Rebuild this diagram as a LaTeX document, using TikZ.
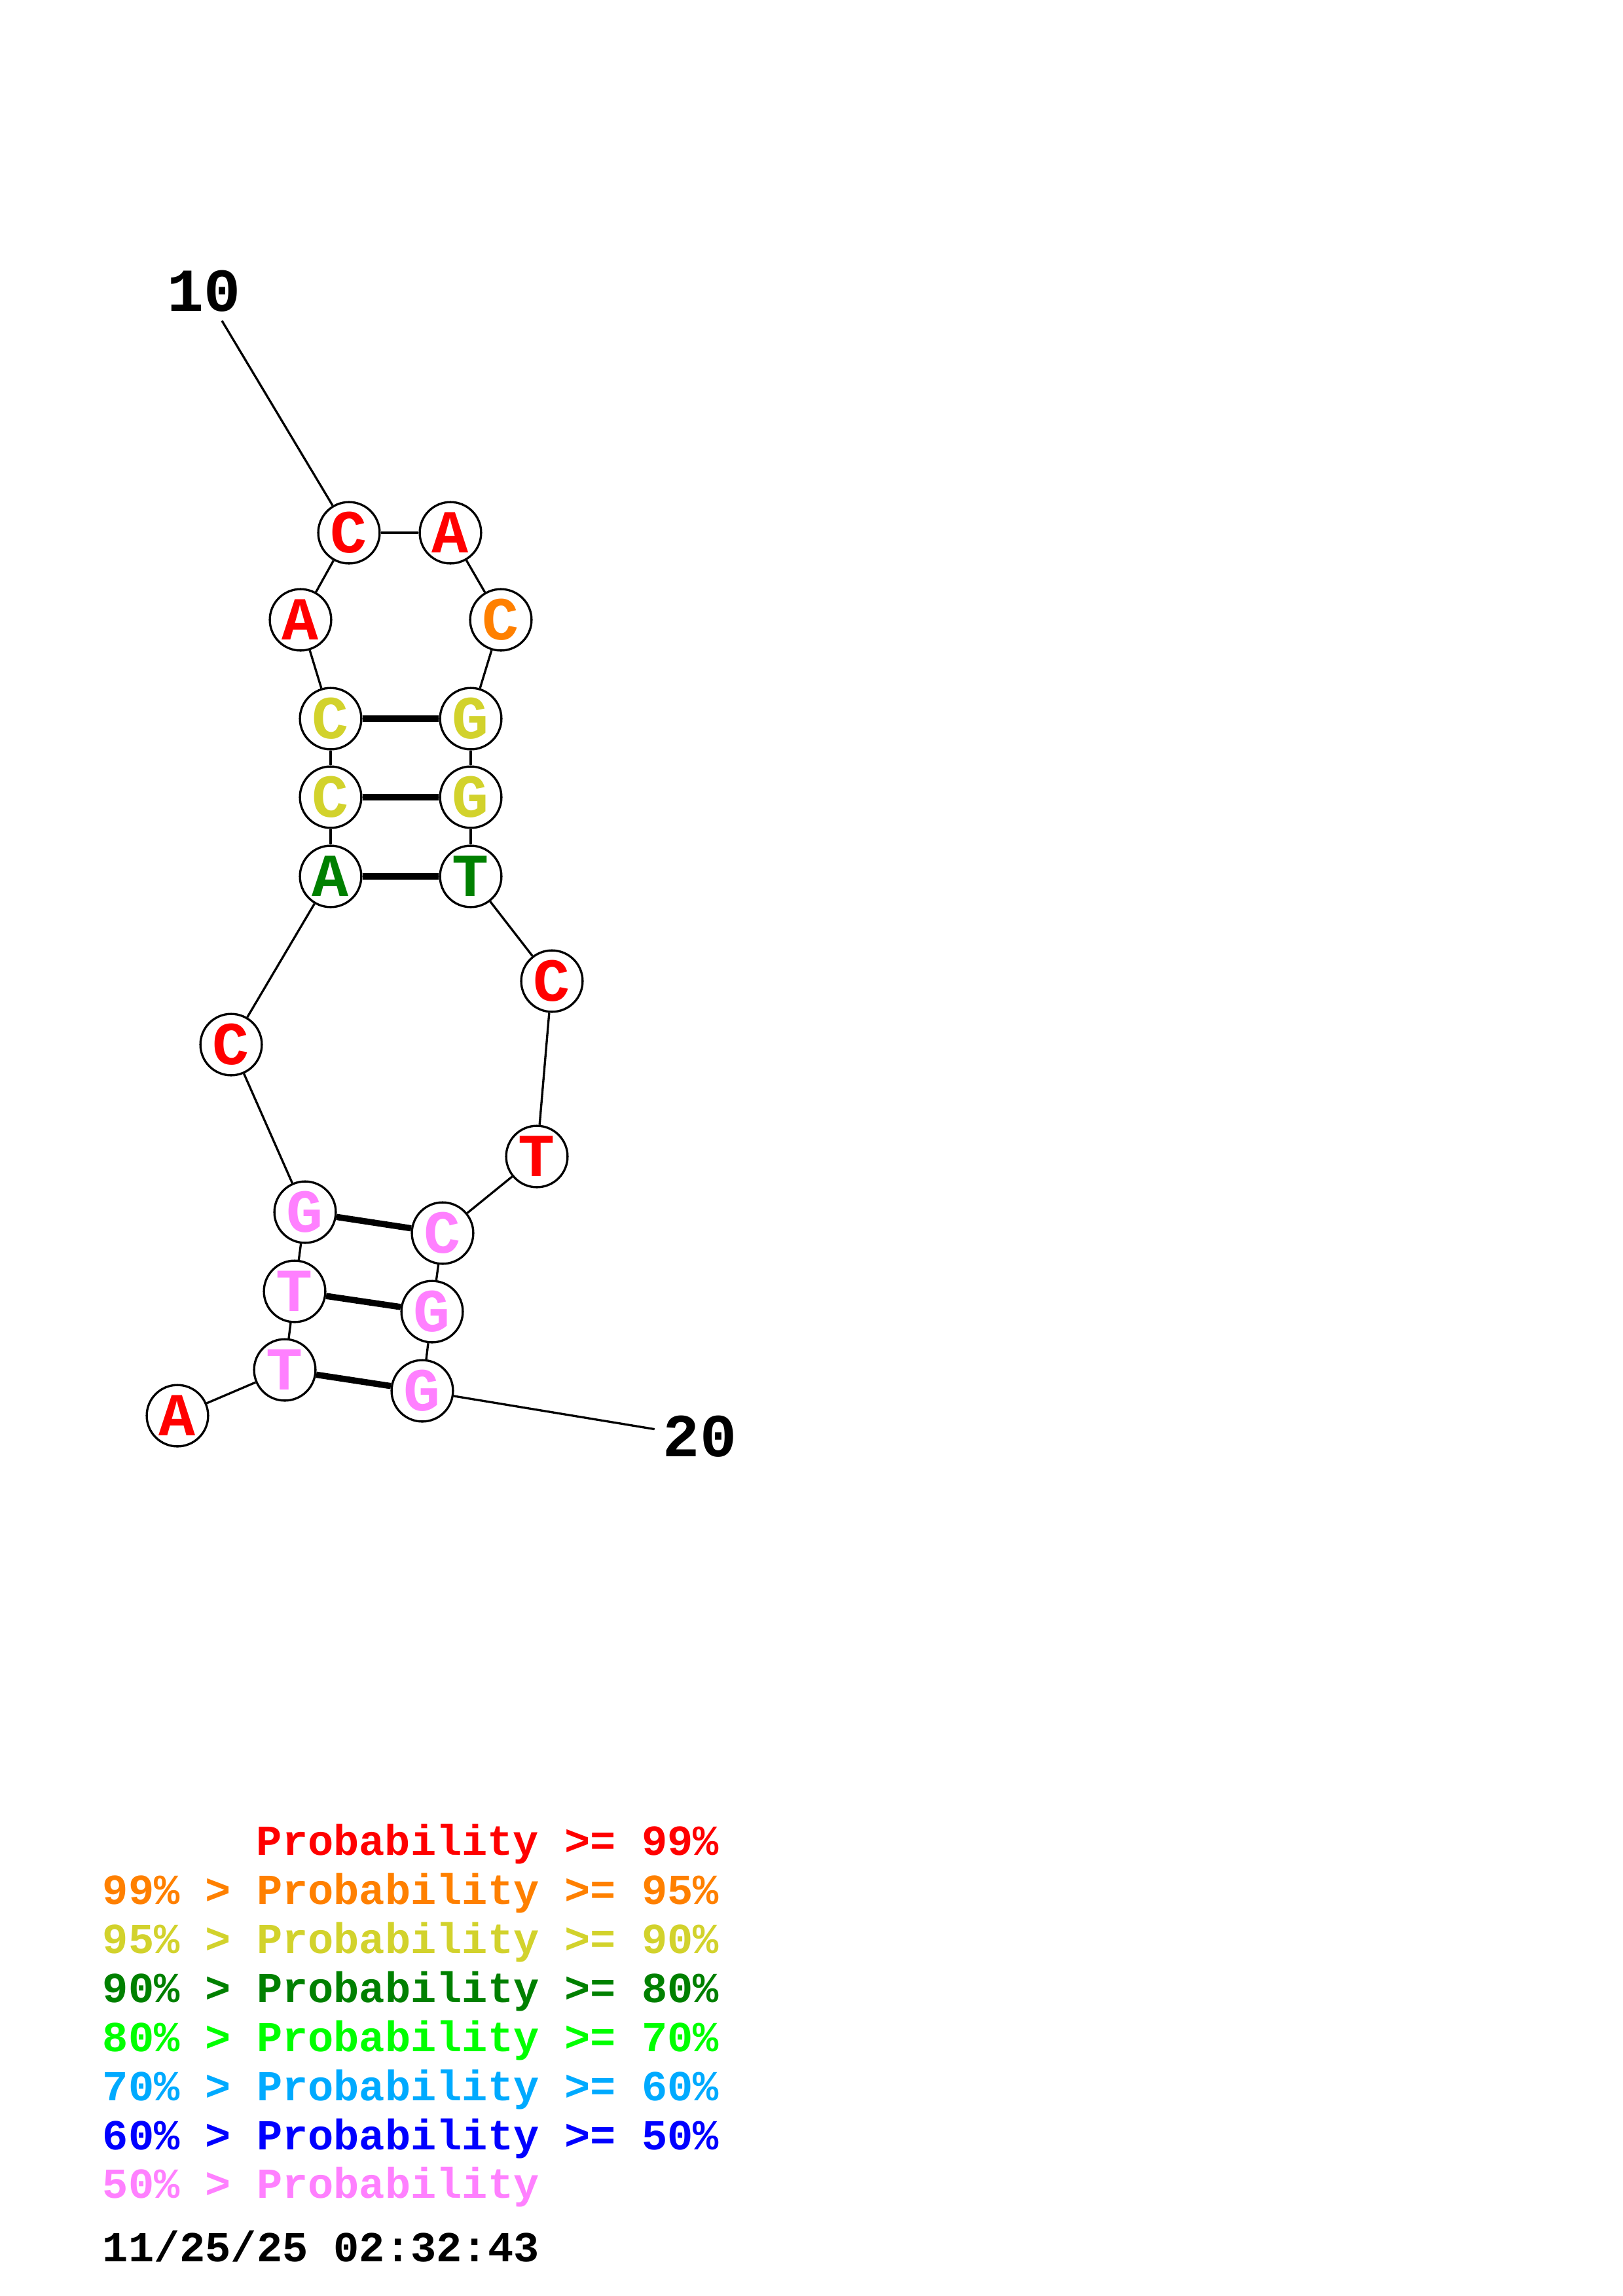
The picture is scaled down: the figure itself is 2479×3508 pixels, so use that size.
\documentclass[tikz,border=0pt]{standalone}
\usepackage{fontspec}
\setmonofont{Liberation Mono}
\usepackage{xcolor}
\usetikzlibrary{calc}

\definecolor{pnine}{RGB}{255,0,0}
\definecolor{pfive}{RGB}{255,128,0}
\definecolor{pninety}{RGB}{210,210,44}
\definecolor{peighty}{RGB}{0,128,0}
\definecolor{pseventy}{RGB}{0,255,0}
\definecolor{psixty}{RGB}{0,170,255}
\definecolor{pfifty}{RGB}{0,0,255}
\definecolor{plow}{RGB}{255,128,255}

\newcommand\nucfont{\fontsize{22.5}{27}\selectfont\ttfamily\bfseries}
\newcommand\legfont{\fontsize{15.75}{19}\selectfont\ttfamily\bfseries}

\begin{document}
\begin{tikzpicture}[x=0.241pt,y=-0.241pt,
    nuc/.style={circle,draw,line width=0.8pt,fill=white,inner sep=0pt,minimum size=22.6pt,font=\nucfont},
    numlabel/.style={font=\nucfont,inner sep=3pt},
    backbone/.style={line width=0.8pt},
    bpair/.style={line width=2.3pt},
    legline/.style={anchor=base west,inner sep=0pt,font=\legfont}]
  \useasboundingbox (0,0) rectangle (2479,3508);

  % bases, 5' to 3'
  \foreach \x/\y/\b/\c [count=\i] in {
      271/2163/A/pnine, 435/2093/T/plow, 450/1973/T/plow, 466/1852/G/plow,
      353/1596/C/pnine, 505/1339/A/peighty, 505/1218/C/pninety, 505/1098/C/pninety,
      459/947/A/pnine, 533/814/C/pnine, 688/814/A/pnine, 765/947/C/pfive,
      719/1098/G/pninety, 719/1218/G/pninety, 719/1339/T/peighty, 843/1499/C/pnine,
      820/1767/T/pnine, 676/1884/C/plow, 660/2004/G/plow, 645/2125/G/plow}
    \node[nuc,text=\c] (n\i) at (\x,\y) {\b};

  \node[numlabel] (l10) at (312,445) {10};
  \node[numlabel] (l20) at (1069,2195) {20};

  % backbone
  \foreach \i [count=\j from 2] in {1,...,19}
    \draw[backbone] (n\i) -- (n\j);
  \draw[backbone] (l10) -- (n10);
  \draw[backbone] (n20) -- (l20);

  % pairs
  \path[bpair]
    (n8) edge (n13)
    (n7) edge (n14)
    (n6) edge (n15)
    (n4) edge (n18)
    (n3) edge (n19)
    (n2) edge (n20);

  % legend
  \node[legline,text=pnine] (lg1) at (391,2834) {Probability >= 99\%};
  \node[legline,text=pfive] (lg2) at (156,2909) {99\% > Probability >= 95\%};
  \node[legline,text=pninety] (lg3) at (156,2984) {95\% > Probability >= 90\%};
  \node[legline,text=peighty] (lg4) at (156,3059) {90\% > Probability >= 80\%};
  \node[legline,text=pseventy] (lg5) at (156,3134) {80\% > Probability >= 70\%};
  \node[legline,text=psixty] (lg6) at (156,3209) {70\% > Probability >= 60\%};
  \node[legline,text=pfifty] (lg7) at (156,3284) {60\% > Probability >= 50\%};
  \node[legline,text=plow] (lg8) at (156,3358) {50\% > Probability};
  \node[legline] (stamp) at (156,3455) {11/25/25 02:32:43};
\end{tikzpicture}
\end{document}
